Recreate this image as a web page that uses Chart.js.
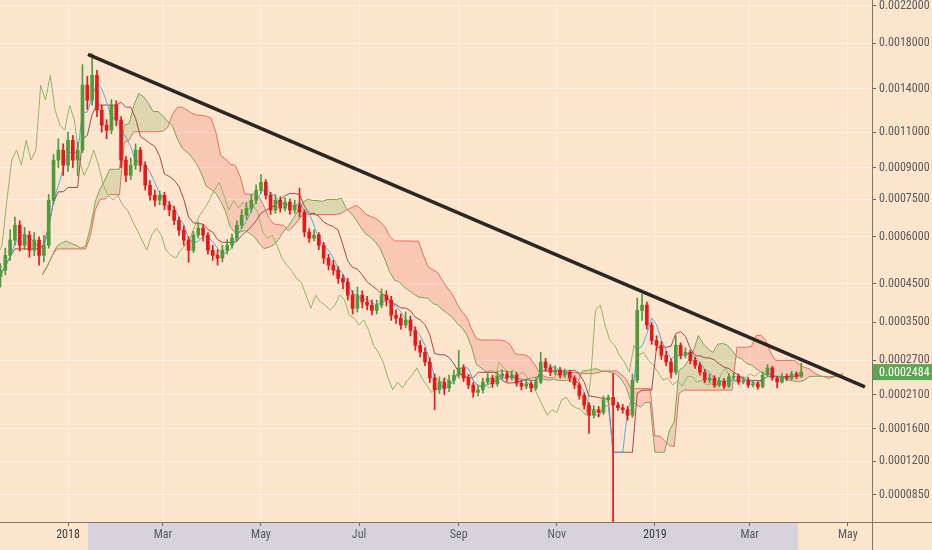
<!DOCTYPE html>
<html><head><meta charset="utf-8">
<script src="https://cdn.jsdelivr.net/npm/chart.js@4/dist/chart.umd.min.js"></script>
<style>
html,body{margin:0;padding:0;background:#fce4cd;}
#wrap{width:932px;height:550px;position:relative;}
</style></head><body><div id="wrap"><canvas id="c" width="932" height="550"></canvas></div>
<script>
// One candle per 3 days; day 0 = 1 Jan 2018. Prices in satoshi (1e-8).
const firstDay = -42;
const stepDays = 3;
const firstOpen = 47000;
const closes = [48900,53600,58800,64300,57000,60600,55300,58800,53600,57000,
74500,93900,99400,91200,105100,93900,99400,142900,131500,150900,
124400,114400,111200,127900,117700,93900,86100,91200,99400,91200,
81300,76700,74500,76700,72400,70300,66200,62400,58800,55300,
60600,63200,60600,55300,53600,52700,55300,57000,59500,64300,
68200,71100,74500,79000,82700,76700,70300,74500,71100,73700,
70300,72400,69500,61700,59500,60600,57000,52700,50500,48900,
46500,45400,41800,38400,41800,40000,39200,37900,39200,41800,
40500,36700,36000,34400,35600,33200,30000,28600,26700,23800,
21800,23100,22100,23400,24300,25600,23800,22600,21400,21800,
23100,23800,22800,24100,24500,23800,24300,22900,22400,22800,
22100,23100,26700,25600,24800,25200,24300,24800,23800,22600,
20900,19400,17900,18700,18300,20200,20600,19400,19000,18700,
17900,23400,37900,39200,34400,31000,30000,28000,26700,24800,
30000,28000,28600,27000,26100,24800,23400,23800,22600,23300,
22400,24000,24100,23100,23400,22600,22800,22300,24300,25600,
23800,23100,24100,23800,24500,24100,24840];
const highs = [51000,56000,62500,67500,66000,63500,62000,61500,60000,60500,
77000,97000,106000,103000,110000,108000,104000,160000,150000,170000,
155000,128000,118000,132000,131000,120000,96000,95000,103000,101000,
93000,83500,79000,78500,78000,74000,72000,67500,64000,60000,
62000,65500,64500,61500,57000,55500,57000,59000,61000,66000,
70500,73500,77000,81500,86500,84000,78000,77000,76000,75500,
75000,74500,80000,70500,63000,62500,61500,58000,54000,52000,
50000,47500,46500,43000,44000,43000,41500,40500,40500,43500,
43000,41500,38000,37000,37500,36500,34000,31000,29500,27500,
24500,24000,23800,24300,25200,29000,26200,24400,23000,22600,
23800,24600,24300,24800,25300,25000,25000,24800,23400,23500,
23200,23800,28600,27400,26200,26000,25700,25400,25200,24200,
23000,21300,19800,19300,19200,20800,21000,24600,19800,19500,
19200,24500,41000,42000,40000,35000,32000,30800,28800,27300,
32000,30500,29500,29000,27600,26600,25300,24500,24200,23900,
23700,24600,24800,24500,24000,23900,23400,23200,24900,26200,
25900,24100,24600,24500,25000,24900,26500];
const lows = [44000,47500,52000,57000,55000,55500,53000,53500,50500,51500,
56000,73000,90000,86000,88000,90000,86000,98000,125000,128000,
120000,110000,106000,109000,114000,90000,83000,84000,89000,88000,
79000,74500,72000,72500,70500,68000,64500,60500,57000,51400,
54500,59500,58500,54000,52000,50500,51500,54000,56000,58500,
63000,66500,69500,73000,77500,75000,68500,69000,69500,70000,
68500,69000,67500,60000,58000,58500,55500,51000,49000,47500,
45000,43500,40500,37000,37500,38500,38000,36800,37000,38500,
39000,35500,34800,33500,33800,32000,29000,27700,26000,23000,
18700,21200,21000,21500,22800,23800,23200,22000,20600,20800,
21300,22700,22200,22400,23600,23200,23400,22400,21800,22000,
21500,21800,22800,25000,24200,24400,23800,23900,23200,22000,
20300,18800,15400,17500,17700,18000,19800,1500,18600,18200,
17200,17600,23000,35500,33500,30200,29000,27200,26000,23800,
24400,27300,27500,26400,25500,24300,23000,23000,22200,22300,
22000,22200,23500,22700,22800,22200,22300,21900,22100,24000,
23400,22100,22900,23400,23500,23700,23900];

const xTickDays = [0,59,120,181,243,304,365,424,485];
const xTickLabels = ['2018','Mar','May','Jul','Sep','Nov','2019','Mar','May'];
const yTickValues = [0.0022,0.0018,0.0014,0.0011,0.0009,0.00075,0.0006,0.00045,0.00035,0.00027,0.00021,0.00016,0.00012,0.000085];
const yTickLabels = ['0.0022000','0.0018000','0.0014000','0.0011000','0.0009000','0.0007500','0.0006000','0.0004500','0.0003500','0.0002700','0.0002100','0.0001600','0.0001200','0.0000850'];
const lastPrice = 0.0002484;
const lastPriceLabel = '0.0002484';
const trendStart = {day: 12.4, price: 0.001693};
const trendEnd = {day: 495.6, price: 0.000223};
const selectionEndDay = 454;
const xRange = [-42.29, 500];
const yRange = [0.0000609, 0.0022719];

// price axis of the picture: log of (price + offset)
const OFF = 0.0001;
const T = p => Math.log(p + OFF);
const SAT = 1e-8;

const candles = closes.map((c, i) => ({
  day: firstDay + stepDays * i,
  o: (i === 0 ? firstOpen : closes[i - 1]) * SAT,
  h: highs[i] * SAT, l: lows[i] * SAT, c: c * SAT
}));
// Ichimoku (9/26/52 days -> 3/9/17 candles of 3 days), shifted 26 days
function mid(i, n) {
  let hi = -Infinity, lo = Infinity;
  for (let k = Math.max(0, i - n + 1); k <= i; k++) { hi = Math.max(hi, candles[k].h); lo = Math.min(lo, candles[k].l); }
  return (hi + lo) / 2;
}
const tenkan = candles.map((c, i) => ({x: c.day, y: T(mid(i, 3))}));
const kijun = candles.map((c, i) => ({x: c.day, y: T(mid(i, 9))}));
const spanA = candles.map((c, i) => ({x: c.day + 26, y: T((mid(i, 3) + mid(i, 9)) / 2)}));
const spanB = candles.map((c, i) => ({x: c.day + 26, y: T(mid(i, 17))}));
const chikou = candles.map(c => ({x: c.day - 26, y: T(c.c)}));

const UP = '#4f9b3c', DOWN = '#e8171b';
const candleColors = candles.map(c => c.c >= c.o ? UP : DOWN);
const FONT = '"Liberation Sans Narrow", "Roboto Condensed", "DejaVu Sans Condensed", Arial, sans-serif';

const overlay = {
  id: 'overlay',
  beforeDraw(chart) {
    const {ctx, chartArea: a, scales: {x}} = chart;
    ctx.save();
    const x1 = x.getPixelForValue(trendStart.day), x2 = x.getPixelForValue(selectionEndDay);
    ctx.fillStyle = '#d6d3dc';
    ctx.fillRect(x1, a.bottom + 1, x2 - x1, chart.height - a.bottom);
    ctx.restore();
  },
  afterDraw(chart) {
    const {ctx, chartArea: a, scales: {y}} = chart;
    ctx.save();
    ctx.strokeStyle = '#7f756c'; ctx.lineWidth = 1;
    ctx.beginPath();
    ctx.moveTo(0, Math.round(a.bottom) + 0.5); ctx.lineTo(chart.width, Math.round(a.bottom) + 0.5);
    ctx.moveTo(Math.round(a.right) + 0.5, 0); ctx.lineTo(Math.round(a.right) + 0.5, chart.height);
    ctx.stroke();
    const py = y.getPixelForValue(T(lastPrice));
    ctx.fillStyle = '#5ca653';
    ctx.fillRect(a.right + 1, py - 8, chart.width - a.right, 16);
    ctx.fillStyle = '#ffffff';
    ctx.font = '12px ' + FONT;
    ctx.textBaseline = 'middle';
    ctx.fillText(lastPriceLabel, a.right + 7, py + 0.5);
    ctx.restore();
  }
};

const datasets = [
  {type: 'line', label: 'trend', data: [{x: trendStart.day, y: T(trendStart.price)}, {x: trendEnd.day, y: T(trendEnd.price)}],
   borderColor: '#2b2622', borderWidth: 3.5, pointRadius: 0, order: -1},
  {type: 'bar', label: 'body', data: candles.map(c => ({x: c.day, y: [T(c.o), T(c.c)]})),
   backgroundColor: candleColors, barThickness: 3, minBarLength: 1, grouped: false, order: 0, clip: 0},
  {type: 'bar', label: 'wick', data: candles.map(c => ({x: c.day, y: [T(c.l), T(c.h)]})),
   backgroundColor: candleColors, barThickness: 1, grouped: false, order: 1, clip: 0},
  {type: 'line', label: 'tenkan', data: tenkan, borderColor: '#5aa8e4', borderWidth: 1, pointRadius: 0, order: 2},
  {type: 'line', label: 'kijun', data: kijun, borderColor: '#a4484a', borderWidth: 1, pointRadius: 0, order: 3},
  {type: 'line', label: 'chikou', data: chikou, borderColor: '#93b566', borderWidth: 1, pointRadius: 0, order: 4},
  {type: 'line', label: 'spanA', data: spanA, borderColor: '#76a556', borderWidth: 1, pointRadius: 0, order: 5,
   fill: {target: 7, above: 'rgba(110,160,60,0.2)', below: 'rgba(240,100,90,0.22)'}},
  {type: 'line', label: 'spanB', data: spanB, borderColor: '#e76c60', borderWidth: 1, pointRadius: 0, order: 6}
];

new Chart(document.getElementById('c'), {
  type: 'bar',
  data: {datasets},
  plugins: [overlay],
  options: {
    responsive: false, animation: false, devicePixelRatio: 1,
    layout: {padding: 0},
    plugins: {legend: {display: false}, tooltip: {enabled: false}},
    scales: {
      x: {
        type: 'linear', position: 'bottom', min: xRange[0], max: xRange[1], offset: false,
        afterBuildTicks: s => { s.ticks = xTickDays.map(v => ({value: v})); },
        afterFit: s => { s.height = 28; s.paddingLeft = 0; s.paddingRight = 0; },
        grid: {offset: false, color: 'rgba(255,255,255,0.45)', tickLength: 4, tickColor: '#6e655d', drawTicks: true},
        border: {display: false},
        ticks: {
          autoSkip: false, maxRotation: 0, padding: 2,
          callback: (v, i) => xTickLabels[i],
          color: ctx => /^\d{4}$/.test(xTickLabels[ctx.index]) ? '#3a3a3a' : '#5a5a5a',
          font: {family: FONT, size: 12}
        }
      },
      y: {
        type: 'linear', position: 'right', min: T(yRange[0]), max: T(yRange[1]),
        afterBuildTicks: s => { s.ticks = yTickValues.map(v => ({value: T(v)})); },
        afterFit: s => { s.width = 60; s.paddingTop = 0; s.paddingBottom = 0; },
        grid: {color: 'rgba(255,255,255,0.45)', tickLength: 4, tickColor: '#6e655d', drawTicks: true},
        border: {display: false},
        ticks: {
          autoSkip: false, padding: 3,
          callback: (v, i) => yTickLabels[i],
          color: '#5a5a5a',
          font: {family: FONT, size: 12}
        }
      }
    }
  }
});
</script></body></html>
